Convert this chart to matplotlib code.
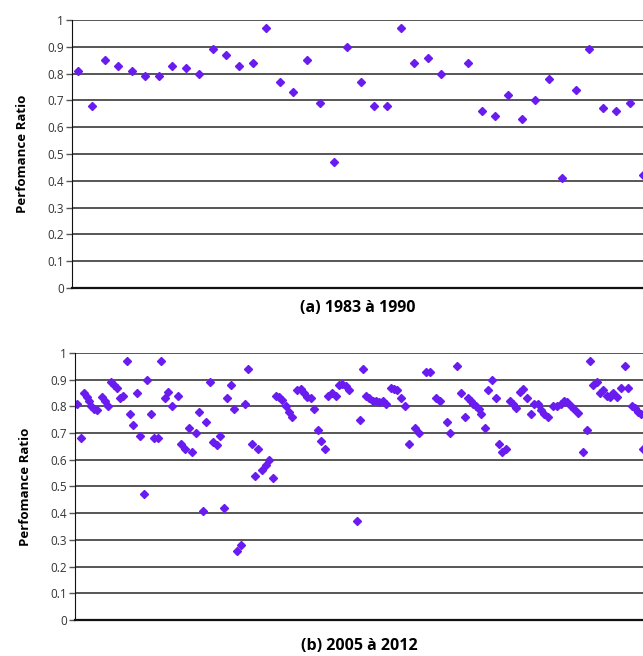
import numpy as np
import matplotlib
matplotlib.use("Agg")
import matplotlib.pyplot as plt

# (a) 1983 a 1990 -- one value per sample, nan = missing
pr_a = [0.81, 0.68, 0.85, 0.83, 0.81, 0.79, 0.79, 0.83, 0.82, 0.80,
        0.89, 0.87, 0.83, 0.84, 0.97, 0.77, 0.73, 0.85, 0.69, 0.47,
        0.90, 0.77, 0.68, 0.68, 0.97, 0.84, 0.86, 0.80, np.nan, 0.84,
        0.66, 0.64, 0.72, 0.63, 0.70, 0.78, 0.41, 0.74, 0.89, 0.67,
        0.66, 0.69, 0.42]

# (b) 2005 a 2012 -- sample position and value
pos_b = [0, 4, 7, 10, 12, 14, 17, 20, 25, 28, 31, 34, 37, 40, 43, 46, 50, 53,
         56, 60, 63, 67, 70, 74, 77, 81, 84, 88, 91, 95, 101, 104, 108, 112,
         115, 119, 122, 126, 129, 133, 136, 140, 143, 147, 150, 154, 157, 160,
         164, 168, 171, 175, 178, 181, 185, 189, 192, 196, 199, 202, 205, 209,
         212, 215, 220, 224, 227, 230, 234, 237, 241, 244, 248, 251, 255, 259,
         262, 265, 269, 272, 280, 283, 286, 289, 292, 296, 299, 302, 306, 309,
         314, 317, 320, 324, 328, 332, 338, 342, 349, 353, 359, 363, 370, 373,
         380, 384, 388, 391, 394, 396, 399, 402, 404, 408, 411, 415, 419, 422,
         425, 429, 433, 436, 439, 443, 446, 450, 454, 457, 461, 464, 467, 471,
         476, 480, 484, 487, 490, 494, 497, 501, 506, 510, 513, 516, 520, 523,
         526, 530, 533, 536, 540, 544, 548, 551, 555, 558, 561, 564, 566]
pr_b = [0.81, 0.68, 0.85, 0.835, 0.82, 0.80, 0.79, 0.785, 0.835, 0.82, 0.80,
        0.89, 0.88, 0.87, 0.83, 0.84, 0.97, 0.77, 0.73, 0.85, 0.69, 0.47,
        0.90, 0.77, 0.68, 0.68, 0.97, 0.83, 0.855, 0.80, 0.84, 0.66, 0.64,
        0.72, 0.63, 0.70, 0.78, 0.41, 0.74, 0.89, 0.665, 0.655, 0.69, 0.42,
        0.83, 0.88, 0.79, 0.26, 0.28, 0.81, 0.94, 0.66, 0.54, 0.64, 0.56,
        0.58, 0.60, 0.53, 0.84, 0.835, 0.825, 0.80, 0.78, 0.76, 0.86, 0.865,
        0.85, 0.835, 0.83, 0.79, 0.71, 0.67, 0.64, 0.84, 0.85, 0.84, 0.88,
        0.885, 0.875, 0.86, 0.37, 0.75, 0.94, 0.84, 0.83, 0.82, 0.82, 0.815,
        0.82, 0.81, 0.87, 0.865, 0.86, 0.83, 0.80, 0.66, 0.72, 0.70, 0.93,
        0.93, 0.83, 0.82, 0.74, 0.70, 0.95, 0.85, 0.76, 0.83, 0.82, 0.81,
        0.80, 0.79, 0.77, 0.72, 0.86, 0.90, 0.83, 0.66, 0.63, 0.64, 0.82,
        0.81, 0.795, 0.855, 0.865, 0.83, 0.77, 0.81, 0.81, 0.785, 0.77, 0.76,
        0.80, 0.80, 0.81, 0.82, 0.815, 0.80, 0.79, 0.775, 0.63, 0.71, 0.97,
        0.88, 0.89, 0.85, 0.86, 0.84, 0.835, 0.85, 0.835, 0.87, 0.95, 0.87,
        0.80, 0.795, 0.78, 0.77, 0.64]

titles = ["(a) 1983 à 1990", "(b) 2005 à 2012"]
ylab = "Perfomance Ratio"
yticks = np.arange(0, 1.01, 0.1)
ytick_labels = ["0", "0.1", "0.2", "0.3", "0.4", "0.5", "0.6", "0.7", "0.8", "0.9", "1"]

col = "#6a1cf0"
fnt = "Open Sans"

fig = plt.figure(figsize=(6.43, 6.56), dpi=100)
ax1 = fig.add_axes([0.112, 0.561, 0.888, 0.4085])
ax2 = fig.add_axes([0.1166, 0.0549, 0.8834, 0.407])

x_a = np.arange(len(pr_a))
ax1.plot(x_a, pr_a, linestyle="none", marker="D", ms=4.3, color=col, mec=col)
ax1.set_xlim(-0.45, len(pr_a) - 1)

ax2.plot(pos_b, pr_b, linestyle="none", marker="D", ms=4.3, color=col, mec=col)
ax2.set_xlim(-2.5, 566)

for ax, t, lp in zip([ax1, ax2], titles, [9, 13]):
    ax.set_ylim(0, 1)
    ax.set_yticks(yticks)
    ax.set_yticklabels(ytick_labels, fontsize=8.5, color="#333333", family=fnt)
    ax.set_xticks([])
    ax.grid(axis="y", color="#3a3a3a", lw=1.2)
    ax.set_axisbelow(True)
    for s in ["top", "right"]:
        ax.spines[s].set_visible(False)
    ax.spines["left"].set_color("#111111")
    ax.spines["bottom"].set_color("#111111")
    ax.spines["bottom"].set_linewidth(1.6)
    ax.tick_params(axis="y", length=4, width=1, color="#555555", pad=2)
    ax.set_ylabel(ylab, fontsize=9.5, fontweight="bold", family=fnt, labelpad=13)
    ax.set_xlabel(t, fontsize=11.5, fontweight="bold", family=fnt, labelpad=lp)

fig.savefig("out.png", dpi=100)
